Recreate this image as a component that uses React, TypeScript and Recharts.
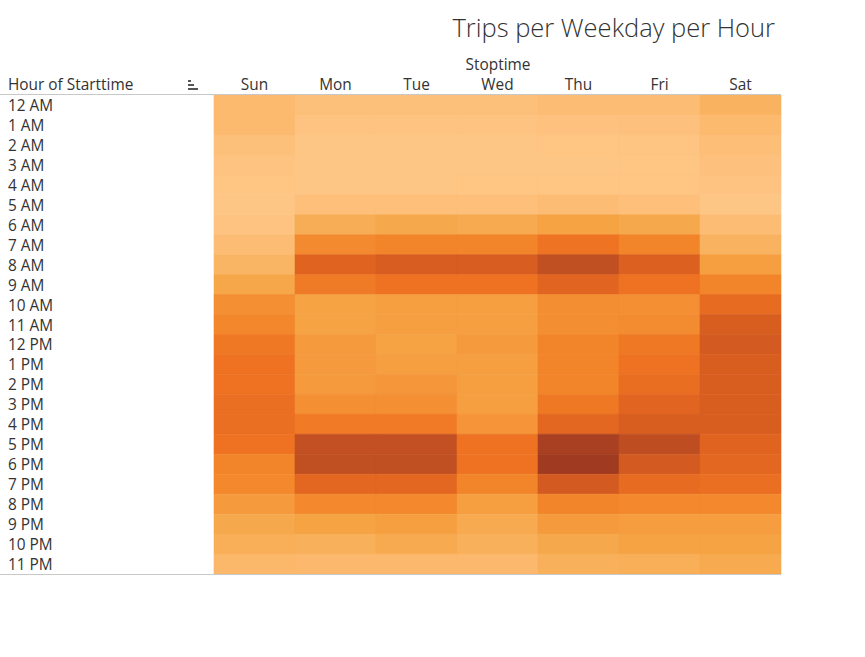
import React from "react";
import { BarChart, Bar, XAxis, YAxis, Cell } from "recharts";

const hours = [
  "12 AM", "1 AM", "2 AM", "3 AM", "4 AM", "5 AM", "6 AM", "7 AM", "8 AM", "9 AM", "10 AM", "11 AM",
  "12 PM", "1 PM", "2 PM", "3 PM", "4 PM", "5 PM", "6 PM", "7 PM", "8 PM", "9 PM", "10 PM", "11 PM",
];
const days = ["Sun", "Mon", "Tue", "Wed", "Thu", "Fri", "Sat"];

// relative trip intensity per hour (index 0 = 12 AM)
const sun = [12, 12, 6, 3, 1, 0, 3, 10, 16, 27, 44, 49, 57, 60, 60, 62, 62, 60, 50, 48, 37, 26, 21, 14];
const mon = [6, 3, 0, 0, 0, 7, 22, 47, 70, 55, 30, 30, 37, 37, 37, 44, 56, 88, 89, 68, 48, 30, 20, 13];
const tue = [6, 3, 0, 0, 0, 7, 26, 50, 77, 60, 33, 33, 30, 33, 40, 44, 56, 88, 89, 68, 48, 33, 25, 13];
const wed = [6, 3, 0, 0, 1, 7, 25, 50, 77, 60, 33, 33, 37, 33, 33, 33, 41, 60, 60, 50, 33, 25, 20, 13];
const thu = [10, 4, 1, 0, 1, 10, 30, 59, 89, 69, 45, 45, 50, 50, 50, 57, 68, 97, 100, 80, 50, 37, 26, 20];
const fri = [10, 5, 2, 1, 1, 7, 26, 50, 73, 60, 44, 46, 57, 60, 63, 69, 76, 90, 80, 65, 48, 35, 30, 21];
const sat = [18, 12, 8, 5, 3, 0, 10, 18, 33, 50, 65, 76, 80, 76, 76, 76, 76, 70, 68, 62, 48, 35, 30, 25];

const series = [sun, mon, tue, wed, thu, fri, sat];

const stops: [number, string][] = [
  [0, "#FEC685"], [0.1, "#FDBC74"], [0.2, "#F8B05A"], [0.3, "#F5A343"], [0.4, "#F5963A"],
  [0.5, "#F2852A"], [0.6, "#EE7222"], [0.7, "#E06420"], [0.8, "#D35A20"], [0.9, "#BE4E22"], [1, "#A03A20"],
];

const hex = (c: string) => [1, 3, 5].map((i) => parseInt(c.slice(i, i + 2), 16));

const all = series.flat();
const vmin = Math.min(...all);
const vmax = Math.max(...all);

function colorFor(v: number) {
  const t = (v - vmin) / (vmax - vmin);
  for (let i = 1; i < stops.length; i++) {
    if (t <= stops[i][0]) {
      const [t0, c0] = stops[i - 1];
      const [t1, c1] = stops[i];
      const f = (t - t0) / (t1 - t0);
      const a = hex(c0), b = hex(c1);
      const m = a.map((x, k) => Math.round(x + (b[k] - x) * f));
      return `rgb(${m[0]},${m[1]},${m[2]})`;
    }
  }
  return stops[stops.length - 1][1];
}

// one unit per cell, stacked across the days
const rows = hours.map((h) => {
  const r: any = { hour: h };
  days.forEach((d) => (r[d] = 1));
  return r;
});

const font = "'Open Sans', sans-serif";
const text = "#333333";
const fs = 15.4;

const HourTick = (props: any) => (
  <text x={8} y={props.y} dy={6} fontSize={fs} fill={text} fontFamily={font}>
    {props.payload.value}
  </text>
);

const DayTick = (props: any) => (
  <text x={props.x} y={props.y} dy={3} textAnchor="middle" fontSize={fs} fill={text} fontFamily={font}>
    {days[Math.floor(props.payload.value)]}
  </text>
);

export default function App() {
  return (
    <div style={{ position: "absolute", left: 0, top: 0, width: 865, height: 657, background: "#fff" }}>
      <div style={{ position: "absolute", right: 90, top: 10, fontFamily: font, fontWeight: 300, fontSize: 25.5, color: text }}>
        Trips per Weekday per Hour
      </div>
      <div style={{ position: "absolute", left: 498, top: 54, transform: "translateX(-50%)", fontFamily: font, fontSize: fs, color: text }}>
        Stoptime
      </div>
      <div style={{ position: "absolute", left: 8, top: 74, fontFamily: font, fontSize: fs, color: text }}>
        Hour of Starttime
      </div>
      <svg style={{ position: "absolute", left: 186, top: 79 }} width={14} height={12}>
        <rect x={2} y={1} width={3} height={2} fill="#555" />
        <rect x={2} y={5} width={6} height={2} fill="#555" />
        <rect x={2} y={9} width={10} height={2} fill="#555" />
      </svg>
      <BarChart
        width={865}
        height={657}
        data={rows}
        layout="vertical"
        barCategoryGap={0}
        barGap={0}
        margin={{ top: 65, right: 84, bottom: 83, left: 8 }}
      >
        <XAxis
          type="number"
          orientation="top"
          domain={[0, 7]}
          ticks={[0.5, 1.5, 2.5, 3.5, 4.5, 5.5, 6.5]}
          allowDecimals
          axisLine={false}
          tickLine={false}
          height={30}
          tick={<DayTick />}
        />
        <YAxis
          type="category"
          dataKey="hour"
          width={206}
          axisLine={false}
          tickLine={false}
          interval={0}
          tick={<HourTick />}
        />
        {days.map((d, di) => (
          <Bar key={d} dataKey={d} stackId="a" isAnimationActive={false}>
            {rows.map((_, hi) => {
              const c = colorFor(series[di][hi]);
              return <Cell key={hi} fill={c} stroke={c} strokeWidth={0.6} />;
            })}
          </Bar>
        ))}
      </BarChart>
      <div style={{ position: "absolute", left: 0, top: 94, width: 781, height: 1, background: "#c8c8c8" }} />
      <div style={{ position: "absolute", left: 0, top: 574, width: 781, height: 1, background: "#c8c8c8" }} />
    </div>
  );
}
